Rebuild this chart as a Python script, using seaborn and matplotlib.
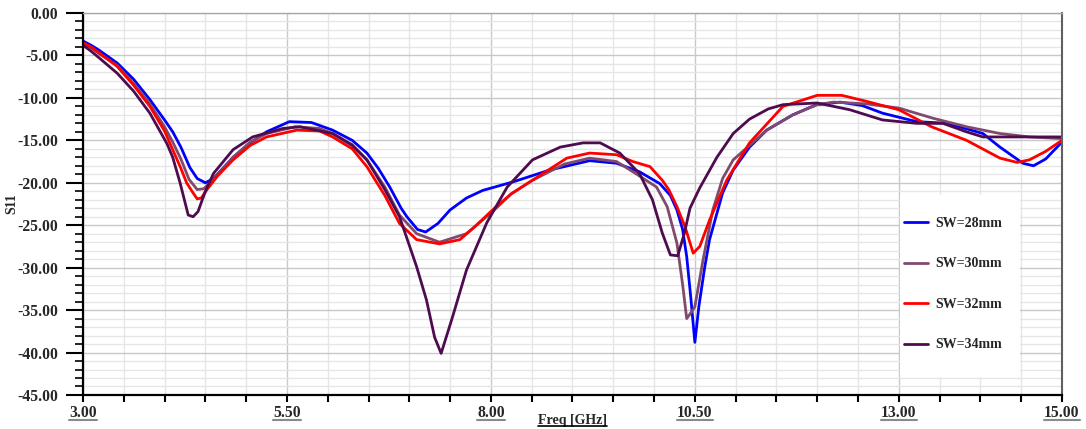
import pandas as pd
import matplotlib.pyplot as plt
import seaborn as sns
from matplotlib.ticker import FixedLocator, MultipleLocator, FormatStrFormatter
from matplotlib.lines import Line2D
from matplotlib.patches import Rectangle

# --- Data ---
freq_28 = [3.0, 3.1, 3.2, 3.42, 3.62, 3.82, 4.0, 4.1, 4.2, 4.31, 4.4, 4.5, 4.6, 4.84, 5.05, 5.25, 5.53,
           5.8, 6.06, 6.3, 6.48, 6.62, 6.76, 6.9, 6.97, 7.1, 7.2, 7.35, 7.5, 7.7, 7.9, 8.27, 8.72,
           9.21, 9.54, 9.82, 10.07, 10.2, 10.28, 10.35, 10.4, 10.45, 10.5, 10.55, 10.62, 10.68,
           10.84, 10.97, 11.17, 11.38, 11.7, 11.99, 12.28, 12.55, 12.8, 13.22, 13.6, 14.03, 14.24,
           14.52, 14.65, 14.8, 15.0]
s11_28 = [-3.3, -3.8, -4.4, -5.9, -7.8, -10.2, -12.6, -14.0, -15.8, -18.2, -19.5, -20.0, -19.5, -17.0,
          -15.3, -14.0, -12.8, -12.9, -13.8, -15.0, -16.5, -18.3, -20.5, -23.0, -24.0, -25.5, -25.8,
          -24.8, -23.2, -21.8, -20.9, -19.9, -18.5, -17.4, -17.7, -18.7, -20.1, -21.5, -23.2, -25.5,
          -28.7, -33.5, -38.8, -34.5, -30.0, -26.7, -21.2, -18.5, -15.8, -13.8, -12.0, -10.8, -10.5,
          -10.9, -11.8, -12.8, -13.0, -14.2, -15.8, -17.7, -18.0, -17.2, -15.2]

freq_30 = [3.0, 3.1, 3.2, 3.42, 3.62, 3.82, 4.0, 4.1, 4.2, 4.3, 4.4, 4.48, 4.6, 4.84, 5.05, 5.25, 5.6,
           5.9, 6.06, 6.3, 6.48, 6.7, 6.88, 7.09, 7.37, 7.7, 8.02, 8.25, 8.51, 8.9, 9.21, 9.54,
           9.74, 10.03, 10.16, 10.28, 10.35, 10.4, 10.46, 10.5, 10.6, 10.72, 10.84, 10.97, 11.17,
           11.38, 11.7, 12.0, 12.2, 12.6, 13.0, 13.42, 13.83, 14.24, 14.6, 15.0]
s11_30 = [-3.6, -4.1, -4.8, -6.2, -8.3, -10.7, -13.4, -15.2, -17.2, -19.6, -20.8, -20.7, -19.6, -17.0,
          -15.2, -14.2, -13.4, -13.6, -14.2, -15.5, -17.3, -20.5, -23.8, -26.0, -27.0, -26.0, -23.4,
          -21.3, -19.7, -17.8, -17.1, -17.5, -18.7, -20.5, -22.8, -27.1, -32.0, -36.0, -35.2, -34.6,
          -29.1, -23.2, -19.5, -17.3, -15.6, -13.8, -12.0, -10.8, -10.5, -10.7, -11.2, -12.4, -13.4,
          -14.2, -14.6, -14.8]

freq_32 = [3.0, 3.1, 3.2, 3.42, 3.62, 3.82, 4.0, 4.1, 4.2, 4.27, 4.35, 4.4, 4.45, 4.52, 4.65, 4.84, 5.05,
           5.25, 5.62, 5.9, 6.06, 6.3, 6.48, 6.7, 6.88, 7.09, 7.37, 7.62, 7.8, 8.02, 8.25, 8.51,
           8.93, 9.21, 9.54, 9.74, 9.95, 10.1, 10.18, 10.28, 10.38, 10.48, 10.56, 10.68, 10.89,
           11.17, 11.58, 12.0, 12.3, 12.6, 13.0, 13.4, 13.83, 14.24, 14.45, 14.6, 14.8, 15.0]
s11_32 = [-3.5, -4.0, -4.7, -6.3, -8.5, -11.0, -13.9, -16.1, -18.3, -20.0, -21.2, -21.9, -21.8, -20.8,
          -19.2, -17.3, -15.6, -14.6, -13.8, -13.9, -14.6, -16.0, -18.1, -21.5, -24.8, -26.7, -27.2,
          -26.7, -25.2, -23.2, -21.3, -19.7, -17.1, -16.5, -16.7, -17.5, -18.1, -19.7, -20.8, -22.8,
          -25.2, -28.3, -27.5, -24.4, -19.7, -15.3, -11.0, -9.7, -9.7, -10.4, -11.4, -13.4, -15.0,
          -17.1, -17.6, -17.3, -16.3, -15.0]

freq_34 = [3.0, 3.1, 3.2, 3.42, 3.62, 3.82, 4.03, 4.1, 4.19, 4.29, 4.35, 4.41, 4.5, 4.6, 4.84, 5.08,
           5.45, 5.66, 6.06, 6.3, 6.48, 6.7, 6.88, 7.09, 7.21, 7.31, 7.39, 7.53, 7.7, 7.95, 8.2,
           8.51, 8.85, 9.13, 9.34, 9.58, 9.82, 9.98, 10.1, 10.2, 10.29, 10.37, 10.44, 10.56, 10.77,
           10.97, 11.17, 11.4, 11.58, 12.0, 12.4, 12.8, 13.22, 13.54, 13.83, 14.03, 14.5, 15.0]
s11_34 = [-3.8, -4.5, -5.3, -7.1, -9.2, -11.8, -15.4, -17.0, -20.0, -23.8, -24.0, -23.4, -21.0, -18.9,
          -16.1, -14.6, -13.6, -13.4, -14.2, -15.6, -17.3, -20.8, -24.0, -29.9, -33.8, -38.2, -40.1,
          -35.8, -30.3, -24.7, -20.5, -17.3, -15.8, -15.3, -15.3, -16.5, -18.9, -22.0, -25.9, -28.5,
          -28.6, -26.0, -23.0, -20.6, -17.0, -14.2, -12.5, -11.3, -10.8, -10.6, -11.4, -12.6, -13.0,
          -13.0, -14.0, -14.6, -14.6, -14.6]

labels = ['SW=28mm', 'SW=30mm', 'SW=32mm', 'SW=34mm']
colors = ['#0000ff', '#7f4a6c', '#ff0000', '#4e0b4e']
x_labeled = [3.0, 5.5, 8.0, 10.5, 13.0, 15.0]

series = [(freq_28, s11_28), (freq_30, s11_30), (freq_32, s11_32), (freq_34, s11_34)]
df = pd.concat([pd.DataFrame({'Freq': f, 'S11': s, 'SW': lab})
                for (f, s), lab in zip(series, labels)], ignore_index=True)

# --- Style ---
sns.set_theme(style="white")
plt.rcParams['font.family'] = ['Liberation Serif', 'DejaVu Serif']
plt.rcParams['font.weight'] = 'bold'

fig = plt.figure(figsize=(10.86, 4.29), dpi=100)
ax = fig.add_axes([0.0764, 0.0793, 0.9015, 0.8904])

sns.lineplot(data=df, x='Freq', y='S11', hue='SW', palette=dict(zip(labels, colors)),
             estimator=None, sort=False, linewidth=2.0, ax=ax, legend=False)

ax.set_xlim(3, 15)
ax.set_ylim(-45, 0)

ax.xaxis.set_major_locator(FixedLocator(x_labeled))
ax.xaxis.set_minor_locator(MultipleLocator(0.5))
ax.xaxis.set_major_formatter(FormatStrFormatter('%.2f'))
ax.yaxis.set_major_locator(MultipleLocator(5))
ax.yaxis.set_minor_locator(MultipleLocator(1))
ax.yaxis.set_major_formatter(FormatStrFormatter('%.2f'))

ax.tick_params(axis='x', which='both', direction='out', length=5, width=1.5, color='black',
               pad=2, labelsize=11.3, bottom=True)
ax.tick_params(axis='y', which='major', direction='out', length=12, width=1.5, color='black',
               pad=6, labelsize=11.3, left=True)
ax.tick_params(axis='y', which='minor', direction='out', length=6, width=1.2, color='black', left=True)

ax.grid(True, which='major', color='#c8c8c8', linewidth=1.0)
ax.grid(True, which='minor', color='#e6e6e6', linewidth=1.0)
ax.set_axisbelow(True)

for side in ['left', 'bottom']:
    ax.spines[side].set_color('black')
    ax.spines[side].set_linewidth(1.6)
ax.spines['right'].set_color('#606060')
ax.spines['right'].set_linewidth(1.5)
ax.spines['top'].set_color('#a8a8a8')
ax.spines['top'].set_linewidth(1.0)

ax.set_xlabel('Freq [GHz]', fontsize=10, fontweight='bold')
ax.set_ylabel('S11', fontsize=10, fontweight='bold')
ax.xaxis.set_label_coords(0.5, -0.05)
ax.yaxis.set_label_coords(-0.066, 0.5)

# white legend panel (covers the grid, like the reference)
ax.add_patch(Rectangle((0.8345, 0.047), 0.1225, 0.477, transform=ax.transAxes,
                       facecolor='white', edgecolor='none', zorder=1.5))
handles = [Line2D([], [], color=c, lw=2.0) for c in colors]
leg = ax.legend(handles, labels, loc='upper left', bbox_to_anchor=(0.8386, 0.466), borderaxespad=0,
                frameon=False, prop={'size': 10, 'weight': 'bold'}, handlelength=1.75,
                handletextpad=0.5, labelspacing=1.98, borderpad=0)

# underline the labeled x ticks and the x label
fig.canvas.draw()
rend = fig.canvas.get_renderer()
inv = fig.transFigure.inverted()
for t in ax.get_xticklabels():
    if not t.get_text():
        continue
    bb = t.get_window_extent(rend)
    (x0, y0), (x1, _) = inv.transform([[bb.x0, bb.y0 + 1], [bb.x1, bb.y1]])
    fig.add_artist(Line2D([x0, x1], [y0, y0], transform=fig.transFigure, color='#8a8a8a', lw=1.5))
bb = ax.xaxis.label.get_window_extent(rend)
(x0, y0), (x1, _) = inv.transform([[bb.x0, bb.y0 + 1], [bb.x1, bb.y1]])
fig.add_artist(Line2D([x0, x1], [y0, y0], transform=fig.transFigure, color='black', lw=1.2))

fig.savefig('out.png', dpi=100)
